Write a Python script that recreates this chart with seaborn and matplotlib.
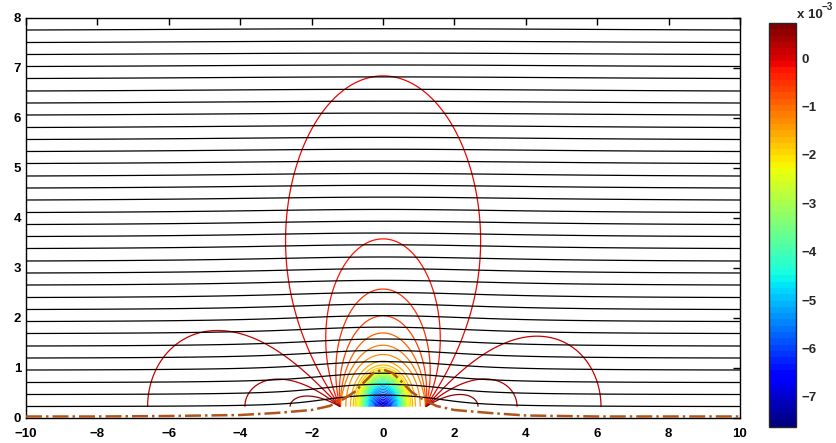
import numpy as np
import matplotlib
matplotlib.use("Agg")
import matplotlib.pyplot as plt
import seaborn as sns
from matplotlib.colors import Normalize
from matplotlib.cm import ScalarMappable

# colour scale (x 1e-3)
p_min, p_max = -7.62, 0.73
p_levels = np.round(np.arange(-7.5, 0.6, 0.2), 2)
cbar_ticks = [0, -1, -2, -3, -4, -5, -6, -7]

# heights of the black streamlines where they leave the plot at x = -10 / +10
stream_edge_y = [0.23, 0.47, 0.71, 0.96, 1.20, 1.44, 1.69, 1.93, 2.17, 2.41, 2.66,
                 2.90, 3.14, 3.39, 3.63, 3.87, 4.11, 4.36, 4.60, 4.84, 5.09, 5.33,
                 5.57, 5.81, 6.06, 6.30, 6.54, 6.79, 7.03, 7.27, 7.51, 7.76, 8.00]

# dash-dot line along the bottom
dash_x = [-10, -8, -6, -4, -3, -2, -1.5, -1.1, -0.8, -0.55, -0.27, 0,
          0.27, 0.5, 0.8, 1.1, 1.5, 2, 3, 4, 6, 8, 10]
dash_y = [0.03, 0.03, 0.04, 0.06, 0.1, 0.16, 0.24, 0.38, 0.52, 0.7, 0.9, 0.97,
          0.9, 0.74, 0.52, 0.38, 0.24, 0.16, 0.1, 0.05, 0.03, 0.03, 0.03]

# field model, shaped after the picture
y_base = 0.227          # bottom of the contoured grid
strip_half = 1.2        # contours converge at x = +-1.2
x_stretch = 1.25        # loops are a little taller than wide
lobe_strength = [0.88, 0.99]      # left / right side lobes
lobe_decay = [2.48, 2.14]
lobe_spread = 0.56
core_depth, core_width = 2.68, 0.618
bump_half, bump_depth, bump_amp = 1.5, 1.0, 0.13


def stream(xx, hh):
    return hh - bump_amp * (np.arctan2(hh + bump_depth, xx - bump_half)
                            - np.arctan2(hh + bump_depth, xx + bump_half))


x = np.linspace(-10, 10, 1201)
y = np.linspace(y_base, 8.3, 650)
X, Y = np.meshgrid(x, y)
H = Y - y_base

xs = X * x_stretch
a_s = strip_half * x_stretch
phi = np.arctan2(H, xs - a_s) - np.arctan2(H, xs + a_s)
with np.errstate(divide="ignore"):
    h_arc = np.where(phi > 1e-12, a_s / np.tan(np.maximum(phi, 1e-12) / 2), np.inf)
h_eff = np.maximum(h_arc, np.hypot(X, H))
with np.errstate(over="ignore"):
    Q = 1 / (0.41 * h_eff + 0.45) ** 2 + core_depth * np.exp(-(h_eff / core_width) ** 4)


def side_lobe(dx, strength, decay):
    gam = np.arctan2(H, dx)
    d = np.hypot(dx, H)
    return strength * np.exp(-d / decay) * np.exp(-(gam / lobe_spread) ** 2)


P = (-Q + side_lobe(-(X + strip_half), lobe_strength[0], lobe_decay[0])
     + side_lobe(X - strip_half, lobe_strength[1], lobe_decay[1]))

PSI = stream(X, H)
psi_levels = np.sort(stream(-10.0, np.array(stream_edge_y) - y_base))

sns.set_style("white")
plt.rcParams['font.family'] = ['Liberation Sans', 'DejaVu Sans']
plt.rcParams['font.weight'] = 'bold'
plt.rcParams['font.size'] = 9.5
plt.rcParams['contour.negative_linestyle'] = 'solid'

cmap = matplotlib.colormaps['jet'].resampled(64)
norm = Normalize(vmin=p_min, vmax=p_max)

fig = plt.figure(figsize=(8.37, 4.43), dpi=100)
ax = fig.add_axes([26 / 837, 25 / 443, 714 / 837, 400 / 443])

ax.contour(X, Y, P, levels=p_levels, cmap=cmap, norm=norm, linewidths=0.9, zorder=1)
ax.contour(X, Y, PSI, levels=psi_levels, colors='black', linewidths=0.9, zorder=2)
sns.lineplot(x=dash_x, y=dash_y, ax=ax, color='#b0541a', linestyle='-.', lw=1.8,
             sort=False, estimator=None, zorder=3)

ax.set_xlim(-10, 10)
ax.set_ylim(0, 8)
ax.set_xticks(range(-10, 11, 2))
ax.set_yticks(range(0, 9))
ax.tick_params(direction='in', top=True, right=True, length=5, width=1, colors='black')
ax.tick_params(axis='x', pad=7)
for s in ax.spines.values():
    s.set_visible(True)
    s.set_color('black')
    s.set_linewidth(1.0)

cax = fig.add_axes([769.5 / 837, 16.3 / 443, 27 / 837, 403.7 / 443])
sm = ScalarMappable(norm=norm, cmap=cmap)
cb = fig.colorbar(sm, cax=cax, ticks=cbar_ticks)
cb.outline.set_linewidth(1.0)
cax.tick_params(direction='in', left=True, right=True, length=4, width=1)
fig.text(797 / 837, 1 - 18 / 443, 'x 10', fontsize=9.5, fontweight='bold', ha='left', va='baseline')
fig.text(822 / 837, 1 - 10 / 443, '\u22123', fontsize=7, fontweight='bold', ha='left', va='baseline')

fig.savefig('out.png', dpi=100)
